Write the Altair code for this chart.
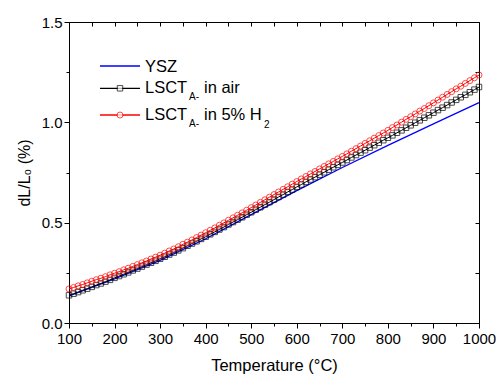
import altair as alt
import pandas as pd

# Temperature grid (degC) for the two measured LSCT series
temps = list(range(100, 1001, 10))

# LSCT_A- in air (dL/L0, %)
lsct_air = [
    0.138, 0.146, 0.154, 0.163, 0.171, 0.180, 0.189, 0.197, 0.206, 0.215, 0.225,
    0.234, 0.243, 0.252, 0.262, 0.271, 0.281, 0.291, 0.300, 0.310, 0.320,
    0.330, 0.341, 0.351, 0.362, 0.373, 0.385, 0.396, 0.407, 0.419, 0.430,
    0.442, 0.454, 0.466, 0.478, 0.491, 0.503, 0.515, 0.527, 0.540, 0.552,
    0.565, 0.577, 0.590, 0.602, 0.615, 0.628, 0.640, 0.653, 0.665, 0.678,
    0.690, 0.703, 0.715, 0.727, 0.739, 0.751, 0.764, 0.776, 0.788, 0.800,
    0.812, 0.825, 0.837, 0.849, 0.861, 0.874, 0.886, 0.898, 0.911, 0.923,
    0.935, 0.948, 0.960, 0.973, 0.985, 0.998, 1.010, 1.023, 1.035, 1.048,
    1.061, 1.073, 1.086, 1.099, 1.112, 1.125, 1.137, 1.150, 1.163, 1.176,
]

# LSCT_A- in 5% H2 (dL/L0, %)
lsct_h2 = [
    0.170, 0.177, 0.185, 0.192, 0.200, 0.208, 0.216, 0.223, 0.231, 0.240, 0.248,
    0.256, 0.265, 0.273, 0.282, 0.291, 0.300, 0.309, 0.319, 0.328, 0.338,
    0.348, 0.359, 0.369, 0.380, 0.392, 0.403, 0.414, 0.426, 0.438, 0.450,
    0.462, 0.474, 0.487, 0.499, 0.512, 0.524, 0.537, 0.549, 0.562, 0.575,
    0.588, 0.601, 0.614, 0.627, 0.640, 0.653, 0.666, 0.679, 0.692, 0.705,
    0.718, 0.730, 0.743, 0.755, 0.768, 0.780, 0.793, 0.805, 0.818, 0.830,
    0.843, 0.856, 0.869, 0.882, 0.895, 0.908, 0.921, 0.934, 0.947, 0.960,
    0.974, 0.987, 1.001, 1.015, 1.028, 1.042, 1.056, 1.069, 1.083, 1.097,
    1.111, 1.125, 1.139, 1.153, 1.167, 1.180, 1.194, 1.208, 1.222, 1.236,
]

# YSZ reference line
ysz_temps = [100, 200, 300, 400, 500, 600, 700, 800, 900, 1000]
ysz_vals = [0.135, 0.220, 0.312, 0.420, 0.540, 0.660, 0.775, 0.885, 0.992, 1.098]

# Axis ticks
x_ticks = list(range(100, 1001, 50))
y_ticks = [0.0, 0.25, 0.5, 0.75, 1.0, 1.25, 1.5]

df_air = pd.DataFrame({"T": temps, "v": lsct_air})
df_h2 = pd.DataFrame({"T": temps, "v": lsct_h2})
df_ysz = pd.DataFrame({"T": ysz_temps, "v": ysz_vals})

FONT = "Liberation Sans"
xscale = alt.Scale(domain=[100, 1000], nice=False, zero=False)
yscale = alt.Scale(domain=[0, 1.5], nice=False, zero=False)

x_axis = alt.Axis(
    values=x_ticks, format="d",
    tickSize={"condition": {"test": "datum.value % 100 === 0", "value": 5}, "value": 3},
    labelExpr="datum.value % 100 === 0 ? datum.label : ''",
    labelFlush=False, labelOverlap=False, labelPadding=3,
    title="Temperature (°C)", titlePadding=11, titleFontSize=16.5,
)
y_axis = alt.Axis(
    values=y_ticks, format=".1f",
    tickSize={"condition": {"test": "(datum.value * 2) % 1 === 0", "value": 5}, "value": 3},
    labelExpr="(datum.value * 2) % 1 === 0 ? datum.label : ''",
    labelFlush=False, labelOverlap=False, labelPadding=2,
    title="dL/L₀ (%)", titlePadding=9, titleFontSize=16,
)

X = alt.X("T:Q", scale=xscale, axis=x_axis)
Y = alt.Y("v:Q", scale=yscale, axis=y_axis)

ysz_line = alt.Chart(df_ysz).mark_line(color="#0000FF", strokeWidth=1.3).encode(x=X, y=Y)
air_line = alt.Chart(df_air).mark_line(color="black", strokeWidth=1).encode(x=X, y=Y)
air_pts = alt.Chart(df_air).mark_point(
    shape="square", filled=False, size=30, strokeWidth=1, color="black"
).encode(x=X, y=Y)
h2_line = alt.Chart(df_h2).mark_line(color="#FF0000", strokeWidth=1).encode(x=X, y=Y)
h2_pts = alt.Chart(df_h2).mark_point(
    shape="circle", filled=False, size=36, strokeWidth=1, color="#FF0000"
).encode(x=X, y=Y)

main = alt.layer(ysz_line, air_line, air_pts, h2_line, h2_pts)

# Top / right inward ticks
frame = alt.Chart(df_h2).mark_point(opacity=0).encode(
    x=alt.X("T:Q", scale=xscale, axis=alt.Axis(
        orient="top", values=x_ticks, labels=False, domain=False,
        tickSize=4, offset=-4, title=None)),
    y=alt.Y("v:Q", scale=yscale, axis=alt.Axis(
        orient="right", values=y_ticks, labels=False, domain=False,
        tickSize=4, offset=-4, title=None)),
)

one = alt.Data(values=[{}])

def rule(y, color):
    return alt.Chart(one).mark_rule(color=color, strokeWidth=1.3).encode(
        x=alt.value(31), x2=alt.value(71), y=alt.value(y))

def txt(s, x, y, size=16.5):
    return alt.Chart(one).mark_text(
        text=s, align="left", baseline="alphabetic", fontSize=size, font=FONT, color="black"
    ).encode(x=alt.value(x), y=alt.value(y))

legend = alt.layer(
    rule(44, "#0000FF"),
    rule(66.3, "black"),
    alt.Chart(one).mark_point(shape="square", filled=True, fill="white", size=30,
                              strokeWidth=1, stroke="black").encode(
        x=alt.value(51), y=alt.value(66.3)),
    rule(93, "#FF0000"),
    alt.Chart(one).mark_point(shape="circle", filled=True, fill="white", size=36,
                              strokeWidth=1, stroke="#FF0000").encode(
        x=alt.value(51), y=alt.value(93)),
    txt("YSZ", 76, 50.3),
    txt("LSCT", 76, 71.3),
    txt("A-", 120, 78, 10),
    txt("in air", 135, 71.3),
    txt("LSCT", 76, 98),
    txt("A-", 120, 105, 10),
    txt("in 5% H", 135, 98),
    txt("2", 195, 106, 10),
)

chart = alt.layer(main, frame, legend).resolve_axis(
    x="independent", y="independent"
).properties(
    width=410, height=301,
    padding={"left": 69, "top": 22, "right": 18, "bottom": 51},
    autosize=alt.AutoSizeParams(type="none"),
).configure_view(
    stroke="black", strokeWidth=1
).configure_axis(
    labelFont=FONT, titleFont=FONT, labelFontSize=15, titleFontSize=15,
    labelColor="black", titleColor="black", tickColor="black", domainColor="black",
    titleFontWeight="normal", grid=False, tickWidth=1,
)

chart.save("out.html", embed_options={"renderer": "svg", "actions": False})
